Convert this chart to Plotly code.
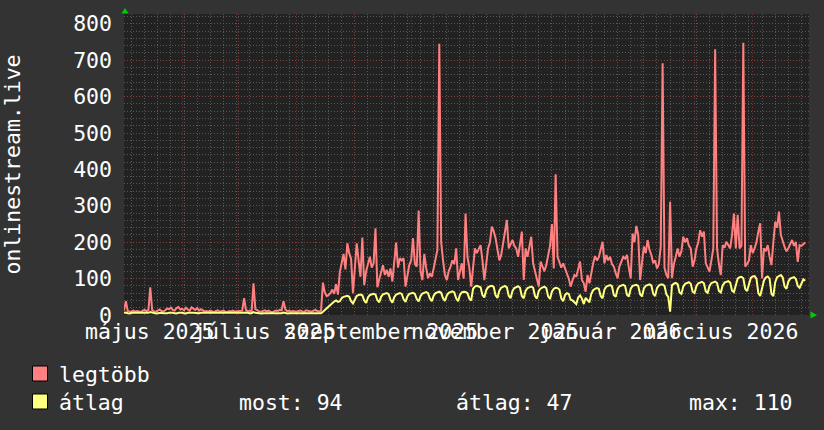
import plotly.graph_objects as go
import pandas as pd

# ---------------- data (daily, 2025-05-01 .. 2026-04-29) ----------------
start_date = "2025-05-01"

legtobb = [
    # May 2025
    12, 38, 11, 9, 10, 12, 9, 11, 10, 8, 12, 14, 11, 13, 76, 14, 10, 9, 12, 15,
    11, 10, 13, 18, 16, 20, 14, 12, 19, 22, 15,
    # Jun
    17, 13, 20, 15, 12, 21, 18, 14, 19, 12, 16, 13, 10, 11, 9, 12, 10, 8, 11, 13,
    9, 10, 12, 9, 8, 11, 10, 12, 9, 10,
    # Jul
    11, 13, 12, 46, 14, 10, 12, 9, 87, 16, 12, 10, 9, 11, 13, 10, 12, 9, 8, 10,
    12, 11, 14, 13, 38, 15, 10, 12, 9, 11, 10,
    # Aug
    9, 11, 12, 10, 8, 13, 11, 10, 9, 12, 14, 11, 10, 12, 89, 62, 52, 55, 60, 70,
    58, 85, 56, 118, 140, 168, 125, 197, 170, 155, 60,
    # Sep
    130, 197, 150, 105, 213, 82, 120, 145, 160, 130, 142, 238, 76, 98, 120, 137,
    110, 124, 105, 128, 92, 140, 199, 130, 156, 150, 156, 78, 110, 137,
    # Oct
    150, 211, 140, 133, 287, 120, 96, 168, 130, 101, 115, 105, 128, 150, 179, 745,
    201, 150, 110, 96, 120, 133, 150, 140, 183, 96, 120, 142, 100, 279, 160,
    # Nov
    130, 78, 140, 183, 170, 183, 192, 150, 96, 140, 183, 200, 243, 230, 211, 180,
    150, 165, 200, 235, 261, 183, 195, 206, 190, 183, 160, 200, 229, 96,
    # Dec
    183, 160, 190, 215, 142, 120, 100, 78, 147, 130, 120, 137, 160, 190, 250, 128,
    387, 160, 145, 130, 142, 125, 114, 100, 78, 95, 110, 105, 125, 147, 96,
    # Jan 2026
    87, 64, 110, 87, 120, 142, 162, 150, 159, 180, 201, 142, 165, 150, 160, 140,
    133, 115, 101, 133, 145, 160, 155, 165, 130, 101, 224, 200, 245, 220, 96,
    # Feb
    150, 188, 170, 206, 179, 165, 142, 150, 128, 140, 188, 692, 130, 110, 101, 311,
    101, 140, 160, 183, 160, 175, 215, 200, 211, 190, 183, 133,
    # Mar
    150, 183, 200, 233, 215, 229, 142, 130, 119, 150, 183, 730, 183, 140, 110, 192,
    185, 201, 190, 183, 220, 279, 183, 275, 183, 190, 748, 133, 140, 150, 192,
    # Apr
    170, 183, 200, 229, 252, 101, 183, 175, 192, 160, 137, 200, 256, 240, 284, 220,
    200, 187, 175, 183, 195, 206, 190, 201, 146, 192, 190, 196, 199,
]

atlag = [
    # May 2025
    6, 7, 5, 4, 6, 6, 5, 6, 5, 5, 4, 6, 7, 6, 8, 6, 5, 4, 5, 6,
    6, 5, 4, 5, 6, 7, 6, 5, 4, 6, 7,
    # Jun
    6, 5, 4, 6, 7, 6, 6, 5, 4, 5, 6, 6, 5, 5, 4, 5, 6, 5, 5, 4,
    4, 5, 6, 5, 5, 4, 4, 5, 5, 6,
    # Jul
    5, 5, 4, 6, 7, 5, 5, 5, 8, 6, 5, 4, 4, 5, 5, 6, 5, 4, 4, 5,
    5, 6, 5, 5, 7, 5, 4, 5, 5, 5, 4,
    # Aug
    5, 5, 6, 5, 4, 5, 6, 5, 5, 4, 5, 6, 5, 5, 9, 14, 17, 24, 29, 33,
    37, 40, 36, 38, 46, 50, 52, 53, 50, 38, 32,
    # Sep
    44, 52, 55, 56, 54, 40, 33, 48, 55, 57, 58, 56, 41, 35, 50, 57,
    59, 60, 57, 42, 34, 49, 56, 58, 60, 58, 43, 36, 51, 58,
    # Oct
    60, 61, 58, 44, 37, 52, 59, 62, 63, 60, 45, 38, 53, 60, 62, 64,
    61, 46, 39, 54, 61, 63, 65, 62, 46, 38, 55, 62, 64, 63, 60,
    # Nov
    45, 40, 72, 78, 80, 79, 76, 55, 48, 68, 76, 79, 80, 77, 54, 47,
    67, 75, 78, 80, 76, 53, 46, 66, 74, 77, 79, 75, 52, 46,
    # Dec
    67, 74, 77, 78, 75, 52, 45, 66, 73, 76, 78, 74, 51, 44, 64, 72,
    75, 74, 70, 46, 38, 55, 60, 58, 42, 40, 35, 30, 48, 54, 45,
    # Jan 2026
    30, 47, 40, 35, 58, 68, 72, 74, 72, 52, 46, 70, 78, 81, 82, 79,
    55, 50, 71, 79, 82, 83, 80, 56, 51, 72, 80, 82, 83, 80, 57,
    # Feb
    51, 73, 80, 83, 84, 81, 58, 52, 74, 81, 84, 84, 80, 57, 50, 9,
    82, 86, 88, 85, 62, 58, 78, 86, 89, 90, 86, 64,
    # Mar
    60, 79, 87, 90, 91, 87, 65, 61, 80, 88, 91, 92, 88, 66, 62, 81,
    89, 92, 93, 89, 67, 63, 86, 100, 104, 105, 101, 72, 66, 88, 102,
    # Apr
    106, 107, 100, 60, 52, 75, 95, 103, 106, 100, 58, 52, 90, 104, 108, 110,
    103, 78, 72, 92, 100, 103, 104, 99, 80, 75, 86, 98, 94,
]

month_starts = ["2025-06-01", "2025-07-01", "2025-08-01", "2025-09-01", "2025-10-01",
                "2025-11-01", "2025-12-01", "2026-01-01", "2026-02-01", "2026-03-01",
                "2026-04-01"]
label_dates = ["2025-05-14 17:00", "2025-07-14 17:00", "2025-09-14 17:00",
               "2025-11-14 17:00", "2026-01-14 17:00", "2026-03-14 17:00"]
label_texts = ["május 2025", "július 2025", "szeptember 2025", "november 2025",
               "január 2026", "március 2026"]
y_ticks = [0, 100, 200, 300, 400, 500, 600, 700, 800]

series_names = ["legtöbb", "átlag"]
series_colors = ["#ff8080", "#ffff80"]
stats_labels = ["most: 94", "átlag: 47", "max: 110"]

x_range = ["2025-05-01", "2026-05-01"]
y_range = [0, 827]

# ---------------- layout geometry ----------------
W, H = 824, 430
L, R, T, B = 124, 15, 14, 115
PW, PH = W - L - R, H - T - B
FONT = "DejaVu Sans Mono"
TXT = "#ffffff"
FS = 21.5


def px(xp):
    return (xp - L) / PW


def py(yp):
    return (H - B - yp) / PH


dates = pd.date_range(start_date, periods=len(legtobb), freq="D")

fig = go.Figure()
for vals, name, col in zip([legtobb, atlag], series_names, series_colors):
    fig.add_trace(go.Scatter(x=dates, y=vals, mode="lines", name=name,
                             line=dict(color=col, width=2), showlegend=False,
                             hoverinfo="skip"))

minor_col = "rgba(110,110,110,0.7)"
major_col = "rgba(150,55,55,0.75)"
dash = "1px,2px"

fig.update_layout(
    width=W, height=H,
    margin=dict(l=L, r=R, t=T, b=B, pad=0),
    paper_bgcolor="#333333",
    plot_bgcolor="#222222",
    font=dict(family=FONT, size=FS, color=TXT),
    xaxis=dict(
        type="date", range=x_range, tickmode="array", tickvals=month_starts,
        showticklabels=False, ticks="", showgrid=True, gridcolor=major_col,
        griddash=dash, gridwidth=1, zeroline=False, showline=False,
        minor=dict(tickmode="linear", tick0="2025-05-05", dtick=7 * 86400000,
                   showgrid=True, gridcolor=minor_col, griddash=dash, gridwidth=1,
                   ticks=""),
    ),
    yaxis=dict(
        range=y_range, tickmode="array", tickvals=y_ticks, ticks="",
        showgrid=True, gridcolor=major_col, griddash=dash, gridwidth=1,
        zeroline=False, showline=False, ticklabelstandoff=11,
        tickfont=dict(family=FONT, size=FS, color=TXT),
        minor=dict(tickmode="linear", tick0=0, dtick=20, showgrid=True,
                   gridcolor=minor_col, griddash=dash, gridwidth=1, ticks=""),
    ),
)

annotations = []
for d, t in zip(label_dates, label_texts):
    annotations.append(dict(x=d, y=py(331.5), xref="x", yref="paper", text=t,
                            showarrow=False, xanchor="center", yanchor="middle",
                            font=dict(family=FONT, size=FS, color=TXT)))

annotations.append(dict(x=px(12), y=0.5, xref="paper", yref="paper",
                        text="onlinestream.live", textangle=-90, showarrow=False,
                        xanchor="center", yanchor="middle",
                        font=dict(family=FONT, size=FS, color=TXT)))

# legend rows
annotations.append(dict(x=px(57), y=py(374), xref="paper", yref="paper",
                        text=series_names[0], showarrow=False, xanchor="left",
                        yanchor="middle", font=dict(family=FONT, size=FS, color=TXT)))
annotations.append(dict(x=px(57), y=py(402), xref="paper", yref="paper",
                        text=series_names[1], showarrow=False, xanchor="left",
                        yanchor="middle", font=dict(family=FONT, size=FS, color=TXT)))
for xx, t in zip([237, 454, 687], stats_labels):
    annotations.append(dict(x=px(xx), y=py(402), xref="paper", yref="paper",
                            text=t, showarrow=False, xanchor="left",
                            yanchor="middle", font=dict(family=FONT, size=FS, color=TXT)))

shapes = []
for ytop, col in zip([366, 394], series_colors):
    shapes.append(dict(type="rect", xref="paper", yref="paper",
                       x0=px(32.5), x1=px(47.5), y0=py(ytop), y1=py(ytop + 15),
                       fillcolor=col, line=dict(color="#000000", width=1)))

# green arrows at axis ends
up = "M {a},{b} L {c},{b} L {d},{e} Z".format(a=px(121.5), b=py(13.5), c=px(128.5),
                                              d=px(125), e=py(8))
right = "M {a},{b} L {a},{c} L {d},{e} Z".format(a=px(810.5), b=py(311.5), c=py(318.5),
                                                 d=px(817), e=py(315))
for p in (up, right):
    shapes.append(dict(type="path", xref="paper", yref="paper", path=p,
                       fillcolor="#00cc00", line=dict(color="#00cc00", width=0)))

fig.update_layout(annotations=annotations, shapes=shapes)
fig.write_html(
    "out.html",
    config={"displayModeBar": False, "staticPlot": True},
    post_script="document.body.style.margin='0';document.body.style.padding='0';"
                "document.body.style.overflow='hidden';"
                "document.body.style.background='#333333';",
)
